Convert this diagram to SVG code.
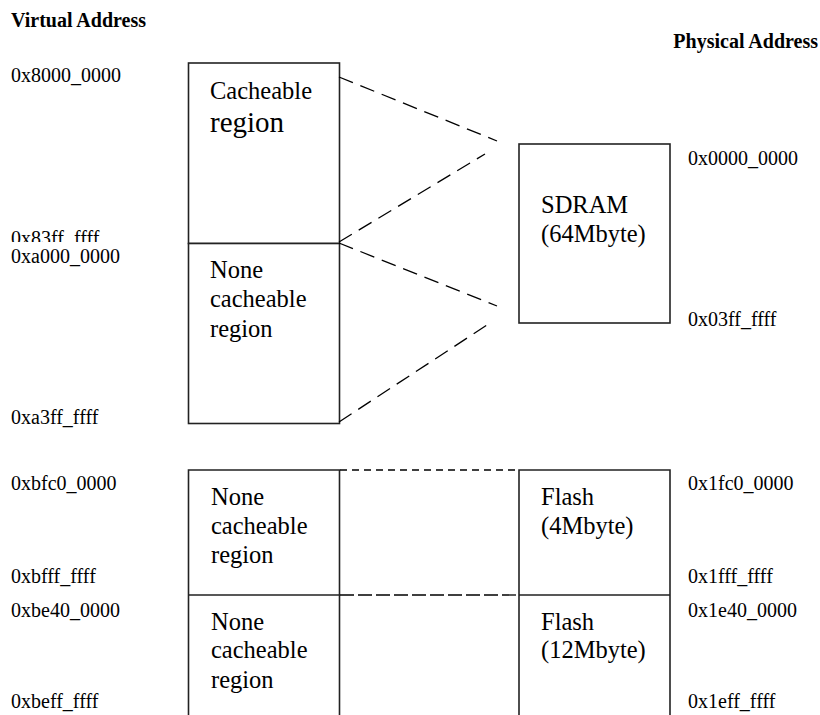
<svg xmlns="http://www.w3.org/2000/svg" width="820" height="715" viewBox="0 0 820 715">
<defs>
<style>
text{font-family:"Liberation Serif","Times New Roman",serif;fill:#000}
.hdr{font-size:20px;font-weight:bold}
.addr{font-size:20px}
.lbl{font-size:24.5px}
.big{font-size:29px}
.box{fill:#fff;stroke:#222;stroke-width:1.6}
.edge{fill:none;stroke:#222;stroke-width:1.6}
.dash{fill:none;stroke:#000;stroke-width:1.3;stroke-dasharray:15 8}
</style>
<clipPath id="cut83"><rect x="0" y="220" width="180" height="22"/></clipPath>
</defs>
<rect width="820" height="715" fill="#fff"/>
<g id="headers">
<text class="hdr" x="11" y="27">Virtual Address</text>
<text class="hdr" x="818" y="48" text-anchor="end">Physical Address</text>
</g>
<g id="virtual-addresses">
<text class="addr" x="11" y="82">0x8000_0000</text>
<text class="addr" x="11" y="245" clip-path="url(#cut83)">0x83ff_ffff</text>
<text class="addr" x="11" y="263">0xa000_0000</text>
<text class="addr" x="11" y="424">0xa3ff_ffff</text>
<text class="addr" x="11" y="490">0xbfc0_0000</text>
<text class="addr" x="11" y="583">0xbfff_ffff</text>
<text class="addr" x="11" y="617">0xbe40_0000</text>
<text class="addr" x="11" y="708">0xbeff_ffff</text>
</g>
<g id="physical-addresses">
<text class="addr" x="688" y="165">0x0000_0000</text>
<text class="addr" x="688" y="326">0x03ff_ffff</text>
<text class="addr" x="688" y="490">0x1fc0_0000</text>
<text class="addr" x="688" y="583">0x1fff_ffff</text>
<text class="addr" x="688" y="617">0x1e40_0000</text>
<text class="addr" x="688" y="708">0x1eff_ffff</text>
</g>
<g id="cacheable-region">
<rect class="box" x="188.5" y="63" width="151" height="180.5"/>
<text class="lbl" x="210" y="99">Cacheable</text>
<text class="big" x="210" y="132">region</text>
</g>
<g id="none-cacheable-region-1">
<rect class="box" x="188.5" y="243.5" width="151" height="180"/>
<text class="lbl" x="210" y="278">None</text>
<text class="lbl" x="210" y="307">cacheable</text>
<text class="lbl" x="210" y="337">region</text>
</g>
<g id="sdram">
<rect class="box" x="519" y="144" width="151" height="179"/>
<text class="lbl" x="541" y="213">SDRAM</text>
<text class="lbl" x="541" y="242">(64Mbyte)</text>
</g>
<g id="none-cacheable-region-2">
<path class="edge" d="M188.5 717 V470 H339.5 V717 M188.5 595 H339.5"/>
<text class="lbl" x="211" y="505">None</text>
<text class="lbl" x="211" y="534">cacheable</text>
<text class="lbl" x="211" y="563">region</text>
</g>
<g id="none-cacheable-region-3">
<text class="lbl" x="211" y="630">None</text>
<text class="lbl" x="211" y="658">cacheable</text>
<text class="lbl" x="211" y="688">region</text>
</g>
<g id="flash-4m">
<path class="edge" d="M519 717 V470 H670 V717 M519 595 H670"/>
<text class="lbl" x="541" y="505">Flash</text>
<text class="lbl" x="541" y="534">(4Mbyte)</text>
</g>
<g id="flash-12m">
<text class="lbl" x="541" y="630">Flash</text>
<text class="lbl" x="541" y="658">(12Mbyte)</text>
</g>
<g id="connectors">
<line class="dash" x1="339" y1="77" x2="497" y2="141"/>
<line class="dash" x1="339" y1="242" x2="485" y2="154"/>
<line class="dash" x1="339" y1="243" x2="497" y2="306"/>
<line class="dash" x1="339" y1="422" x2="490" y2="323"/>
<line class="dash" x1="340" y1="470" x2="519" y2="470" style="stroke-dasharray:7 5"/>
<line class="dash" x1="340" y1="595" x2="519" y2="595" style="stroke-dasharray:14 4"/>
</g>
</svg>
